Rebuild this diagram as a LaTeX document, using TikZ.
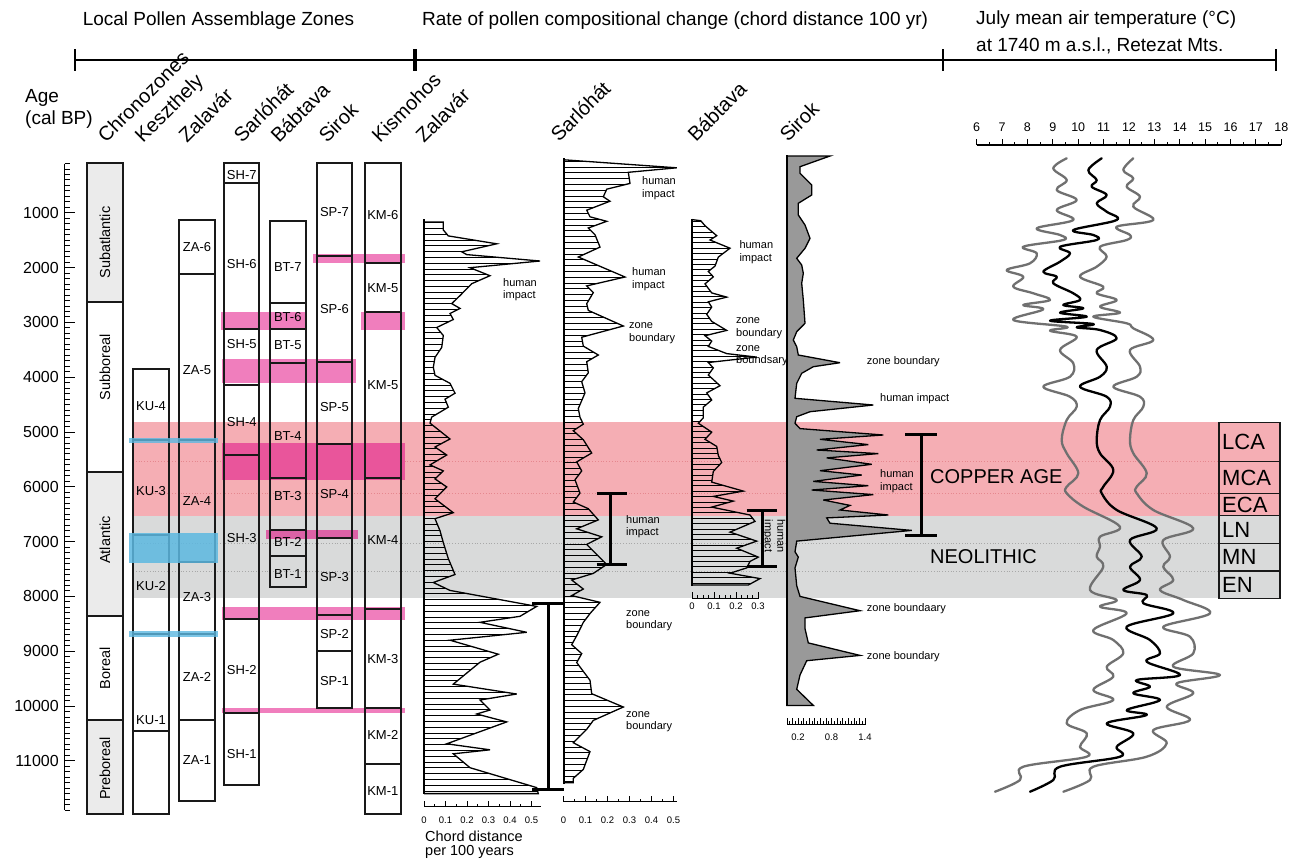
\documentclass[tikz,border=0pt]{standalone}
\usepackage{fontspec}
\setmainfont{Liberation Sans}
\definecolor{cuband}{HTML}{F5AEB4}
\definecolor{neoband}{HTML}{D9DADA}
\definecolor{chrongray}{HTML}{EBEBEB}
\definecolor{zpink}{HTML}{F07EBD}
\definecolor{zpinkdark}{HTML}{E9559B}
\definecolor{zpinkgray}{HTML}{DC62A6}
\definecolor{zblue}{HTML}{5CB8E1}
\definecolor{sirokgray}{HTML}{999999}
\definecolor{tgray}{HTML}{707070}
\definecolor{cudot}{HTML}{E5878E}
\definecolor{neodot}{HTML}{A8A8A8}
\newcommand\curveZA{(424,221.9) -- (443.3,221.9) -- (443.3,229.9) -- (448.3,235.9) -- (496.7,243.8) -- (461.7,251.8) -- (466.7,254.6) -- (540,261) -- (470,267.7) -- (490,275.7) -- (471.7,283.7) -- (460,295.6) -- (451.7,303.6) -- (460,308.4) -- (450,313.5) -- (453.3,319.5) -- (436.7,327.5) -- (443.3,335.5) -- (441.7,347.4) -- (435,357.4) -- (433.3,367.3) -- (435,375.3) -- (450,383.3) -- (455,393.2) -- (445,399.2) -- (448.3,407.2) -- (431.7,417.1) -- (430,423.1) -- (450,439) -- (435,447) -- (446.7,455) -- (430,464.9) -- (443.3,470.9) -- (435,478.9) -- (446.7,486.9) -- (435,498.8) -- (453.3,512.7) -- (435,518.7) -- (440,530.7) -- (443.3,542.6) -- (448.3,558.6) -- (455,574.5) -- (433.3,582.5) -- (450,590.4) -- (536.7,606.4) -- (520,616.3) -- (480,622.3) -- (526.7,632.3) -- (450,640.2) -- (498.3,654.2) -- (480,662.2) -- (453.3,684.1) -- (516.7,694) -- (480,700) -- (490,710) -- (476.7,714) -- (506.7,721.9) -- (446.7,743.8) -- (490,749.8) -- (453.3,753.8) -- (470,767.7) -- (536.7,787.6) -- (538.3,793.6) -- (424,793.6)}
\newcommand\curveSH{(564,159.8) -- (676.7,167.8) -- (628.3,172.3) -- (630,183.4) -- (606.7,189.2) -- (603.3,196.8) -- (610,201.2) -- (586.7,210.2) -- (590,216.8) -- (606.7,221.3) -- (588.3,228) -- (595,234.7) -- (600,247.1) -- (578.3,257) -- (625,277) -- (586.7,285.9) -- (593.3,292.6) -- (586.7,303.7) -- (588.3,310.4) -- (623.3,326) -- (581.7,337.2) -- (583.3,346.1) -- (598.3,355) -- (586.7,361.7) -- (588.3,372.8) -- (581.7,381.7) -- (585,392.9) -- (578.3,408.5) -- (580,417.4) -- (583.3,424.1) -- (573.3,430.7) -- (583.3,439.7) -- (591.7,453) -- (576.7,461.9) -- (581.7,470.9) -- (575,479.8) -- (580,493.1) -- (573.3,502) -- (588.3,508.7) -- (598.3,519.9) -- (576.7,528.8) -- (601.7,536.8) -- (586.7,544.4) -- (606.7,564.4) -- (593.3,573.4) -- (571.7,580) -- (583.3,589) -- (571.7,595.6) -- (600,602.3) -- (590,613.5) -- (583.3,622.4) -- (576.7,635.7) -- (571.7,644.7) -- (581.7,653.6) -- (576.7,662.5) -- (583.3,671.4) -- (590,680.3) -- (591.7,693.7) -- (623.3,707) -- (593.3,720.4) -- (586.7,729.3) -- (573.3,742.7) -- (590,751.6) -- (583.3,769.4) -- (573.3,778.3) -- (573.3,782.8) -- (564,782.8)}
\newcommand\curveBT{(692,219.6) -- (700.7,220.7) -- (705,225.7) -- (716.7,235.7) -- (710,240) -- (730,248.2) -- (718.3,257.1) -- (715,266.1) -- (708.3,271.4) -- (713.3,276.8) -- (705,283.9) -- (711.7,292.9) -- (726.7,297.1) -- (708.3,301.8) -- (711.7,307.1) -- (706.7,314.3) -- (711.7,321.4) -- (726.7,330.4) -- (705,335.7) -- (711.7,341.1) -- (708.3,346.4) -- (726.7,353.6) -- (756.7,357.1) -- (708.3,362.5) -- (713.3,367.9) -- (708.3,375) -- (720,385.7) -- (706.7,392.9) -- (711.7,400) -- (703.3,407.1) -- (703.3,417.9) -- (698.3,423.2) -- (711.7,432.1) -- (705,439.3) -- (716.7,446.4) -- (718.3,455.4) -- (721.7,462.5) -- (713.3,471.4) -- (711.7,482.1) -- (743.3,491.1) -- (713.3,496.4) -- (733.3,501.1) -- (711.7,507.1) -- (750,515) -- (755,521.4) -- (730,532.1) -- (756.7,541.1) -- (736.7,548.2) -- (758.3,557.1) -- (750,561.4) -- (746.7,567.9) -- (730,573.2) -- (760,578.6) -- (748.3,585) -- (692,585)}
\newcommand\curveSP{(787,156) -- (830,156) -- (800,166.7) -- (800,173.3) -- (811.7,185) -- (811.7,195) -- (798.3,203.3) -- (798.3,215) -- (805,225) -- (810,238.3) -- (805,248.3) -- (796.7,258.3) -- (801.7,265) -- (803.3,273.3) -- (801.7,283.3) -- (803.3,300) -- (805,323.3) -- (796.7,331.7) -- (793.3,340) -- (796.7,346.7) -- (798.3,355) -- (840,362.7) -- (813.3,366.7) -- (801.7,373.3) -- (796.7,383.3) -- (795,398.3) -- (873.3,405) -- (810,411.7) -- (796.7,416.7) -- (795,423.3) -- (800,428.6) -- (883.3,435) -- (820,439.3) -- (868.3,444.6) -- (816.7,450) -- (878.3,453.6) -- (826.7,457.9) -- (871.7,464.3) -- (820,470.7) -- (861.7,475) -- (813.3,481.4) -- (868.3,485.7) -- (811.7,490) -- (873.3,494.6) -- (823.3,500) -- (850,505.4) -- (840,510) -- (888.3,515) -- (826.7,517.9) -- (830,523.2) -- (911.7,530.4) -- (796.7,541.1) -- (795,551.8) -- (798.3,557.1) -- (795,567.9) -- (796.7,585.7) -- (800,596.4) -- (860,610.7) -- (805,617.9) -- (805,628.6) -- (808.3,642.9) -- (860,655.4) -- (806.7,660.7) -- (800,675) -- (796.7,689.3) -- (813.3,705.4) -- (787,705.4)}
\begin{document}
\begin{tikzpicture}[x=1pt,y=-1pt,
  zbox/.style={draw=black!90, line width=1.7pt},
  zlab/.style={font=\fontsize{13}{14}\selectfont, inner sep=0pt},
  czlab/.style={font=\fontsize{14.5}{16}\selectfont, inner sep=0pt, rotate=90},
  hdr/.style={font=\fontsize{19}{22}\selectfont, inner sep=0pt, anchor=west},
  rhdr/.style={font=\fontsize{20}{22}\selectfont, inner sep=0pt, rotate=45, anchor=base west},
  agelab/.style={font=\fontsize{16}{18}\selectfont, inner sep=0pt, anchor=east},
  ann/.style={font=\fontsize{11}{12.5}\selectfont, inner sep=0pt, anchor=west, align=left},
  sclab/.style={font=\fontsize{9.5}{11}\selectfont, inner sep=0pt},
  tlab/.style={font=\fontsize{12.5}{14}\selectfont, inner sep=0pt},
  bandlab/.style={font=\fontsize{20}{22}\selectfont, inner sep=0pt, anchor=west},
  perlab/.style={font=\fontsize{22}{24}\selectfont, inner sep=0pt, anchor=west},
  crv/.style={line width=1.3pt, line join=miter, miter limit=6},
  hatch/.style={line width=0.6pt},
  axl/.style={line width=1.8pt},
  ibar/.style={line width=3pt},
  tcurve/.style={line width=2.3pt, line join=round, line cap=round},
  scl/.style={line width=0.9pt},
]
\useasboundingbox (0,0) rectangle (1303,860);
\fill[white] (0,0) rectangle (1303,860);

% ---------- period bands ----------
\fill[cuband] (133,422.3) rectangle (1280,515.7);
\fill[neoband] (133,515.7) rectangle (1280,598.3);
\draw[cudot, dotted, line width=0.8pt] (133,461.7) -- (1219,461.7);
\draw[cudot, dotted, line width=0.8pt] (133,493.3) -- (1219,493.3);
\draw[neodot, dotted, line width=0.8pt] (133,543.3) -- (1219,543.3);
\draw[neodot, dotted, line width=0.8pt] (133,571) -- (1219,571);

% ---------- headers ----------
\node[hdr, anchor=center] (hLPAZ) at (218.5,21) {Local Pollen Assemblage Zones};
\node[hdr] (hRate) at (422,21) {Rate of pollen compositional change (chord distance 100 yr)};
\node[hdr] (hJuly) at (976,20) {July mean air temperature (°C)};
\node[hdr] (hAt) at (976,46) {at 1740 m a.s.l., Retezat Mts.};
\coordinate (r0) at (75,60);
\coordinate (r1) at (415,60);
\coordinate (r2) at (943,60);
\coordinate (r3) at (1276,60);
\draw[line width=1.2pt] (r0) -- (r3);
\draw[line width=1.6pt] (75,49) -- (75,71);
\draw[line width=3.2pt] (415,49) -- (415,71);
\draw[line width=1.6pt] (943,49) -- (943,71);
\draw[line width=1.6pt] (1276,49) -- (1276,71);

\node[hdr] (ageA) at (25,98) {Age};
\node[hdr] (ageB) at (25,120) {(cal BP)};

\node[rhdr] (rhChron) at (106,144) {Chronozones};
\node[rhdr] (rhKesz) at (143,144) {Keszthely};
\node[rhdr] (rhZal) at (187,144) {Zalavár};
\node[rhdr] (rhSarl) at (242,144) {Sarlóhát};
\node[rhdr] (rhBab) at (279,144) {Bábtava};
\node[rhdr] (rhSir) at (327,144) {Sirok};
\node[rhdr] (rhKism) at (380,144) {Kismohos};
\node[rhdr] (rhZal2) at (424,144) {Zalavár};
\node[rhdr] (rhSarl2) at (559,143) {Sarlóhát};
\node[rhdr] (rhBab2) at (696,143) {Bábtava};
\node[rhdr] (rhSir2) at (788,143) {Sirok};

% ---------- age axis ----------
\draw[line width=1.3pt] (64.5,163.5) -- (64.5,810.2);
\foreach \k in {1,...,119} \draw[line width=0.9pt] (64.5,{158+5.48*\k}) -- ++(5.5,0);
\foreach \k in {10,20,...,110} \draw[line width=0.9pt] (64.5,{158+5.48*\k}) -- ++(10,0);
\foreach \a in {1000,2000,...,11000} \node[agelab] (age\a) at (59,{158+0.0548*\a}) {\a};

% ---------- chronozones ----------
\fill[chrongray] (87,163.3) rectangle (123,301.7);
\fill[chrongray] (87,472) rectangle (123,615.7);
\fill[chrongray] (87,720) rectangle (123,814.3);

% ---------- pink zone bands ----------
\fill[zpink] (220.7,311.7) rectangle (306.7,330);
\fill[zpink] (361,311.7) rectangle (405,330);
\fill[zpink] (221.7,359.3) rectangle (356,383.3);
\fill[zpinkdark] (221.7,443) rectangle (405,480);
\fill[zpink] (312.7,254.3) rectangle (405,263.3);
\fill[zpinkgray] (266,530) rectangle (357.7,539);
\fill[zpink] (221.7,607.3) rectangle (405,620);
\fill[zpink] (221.7,708) rectangle (405,713);

% ---------- zone columns ----------
\draw[zbox] (87,163.3) rectangle (123,814.3);
\foreach \yy in {301.7,472,615.7,720} \draw[zbox] (87,\yy) -- (123,\yy);
\draw[zbox] (133.3,369.3) rectangle (169,814.3);
\foreach \yy in {440,535,634,730.7} \draw[zbox] (133.3,\yy) -- (169,\yy);
\draw[zbox] (179.3,220) rectangle (215,800.7);
\foreach \yy in {274,440,561.7,634,720} \draw[zbox] (179.3,\yy) -- (215,\yy);
\draw[zbox] (224.3,163.3) rectangle (259.3,785);
\foreach \yy in {183.3,329.3,385,455,619.3,712.7} \draw[zbox] (224.3,\yy) -- (259.3,\yy);
\draw[zbox] (270,221) rectangle (305.7,587.3);
\foreach \yy in {303.3,329.3,362.7,478.3,530,556} \draw[zbox] (270,\yy) -- (305.7,\yy);
\draw[zbox] (316.7,163.3) rectangle (352.3,708.3);
\foreach \yy in {255.7,361.7,444.3,537.7,615,650.7} \draw[zbox] (316.7,\yy) -- (352.3,\yy);
\draw[zbox] (365,163.3) rectangle (400.7,814.3);
\foreach \yy in {263.3,312.3,478.3,609.3,708.3,764} \draw[zbox] (365,\yy) -- (400.7,\yy);

% ---------- blue bands ----------
\fill[zblue, opacity=0.8] (129,437.5) rectangle (217.7,443);
\fill[zblue, opacity=0.85] (129,533.3) rectangle (217.7,563.3);
\fill[zblue, opacity=0.8] (129,631) rectangle (217.7,637);

% ---------- zone labels ----------
\node[czlab] (cz1) at (105,242.5) {Subatlantic};
\node[czlab] (cz2) at (105,367.5) {Subboreal};
\node[czlab] (cz3) at (105,540) {Atlantic};
\node[czlab] (cz4) at (105,668.3) {Boreal};
\node[czlab] (cz5) at (105,768.3) {Preboreal};
\foreach \yy/\t [count=\i] in {405.7/KU-4,490.7/KU-3,586/KU-2,720/KU-1} \node[zlab] (ku\i) at (151,\yy) {\t};
\foreach \yy/\t [count=\i] in {247/ZA-6,370/ZA-5,500.7/ZA-4,597/ZA-3,676.7/ZA-2,760/ZA-1} \node[zlab] (za\i) at (197,\yy) {\t};
\foreach \yy/\t [count=\i] in {175/SH-7,264/SH-6,344/SH-5,421.7/SH-4,538/SH-3,670/SH-2,754/SH-1} \node[zlab] (sh\i) at (241.8,\yy) {\t};
\foreach \yy/\t [count=\i] in {267.3/BT-7,316.7/BT-6,345/BT-5,436/BT-4,495.7/BT-3,541.7/BT-2,574/BT-1} \node[zlab] (bt\i) at (287.8,\yy) {\t};
\foreach \yy/\t [count=\i] in {212.3/SP-7,309.3/SP-6,406.7/SP-5,494/SP-4,576.7/SP-3,634/SP-2,681/SP-1} \node[zlab] (sp\i) at (334.5,\yy) {\t};
\foreach \yy/\t [count=\i] in {215/KM-6,287.7/KM-5,385/KM-5,540/KM-4,659.3/KM-3,735/KM-2,791/KM-1} \node[zlab] (km\i) at (382.8,\yy) {\t};

% ---------- Zalavar chord ----------
\begin{scope}
\clip \curveZA -- cycle;
\foreach \yy in {222.5,228.3,...,794} \draw[hatch] (420,\yy) -- (560,\yy);
\end{scope}
\draw[crv] \curveZA;
\draw[axl] (424,219) -- (424,794);
\node[ann] (zaHI) at (503,289.6) {human\\impact};
\draw[ibar] (548.3,603.6) -- (548.3,789.6);
\draw[ibar] (532,603.6) -- (564,603.6);
\draw[ibar] (532,789.6) -- (564,789.6);

% ---------- Sarlohat chord ----------
\begin{scope}
\clip \curveSH -- cycle;
\foreach \yy in {161,166.8,...,783} \draw[hatch] (560,\yy) -- (690,\yy);
\end{scope}
\draw[crv] \curveSH;
\draw[axl] (564,158) -- (564,783.5);
\node[ann] (shHI1) at (642,188) {human\\impact};
\node[ann] (shHI2) at (632,279) {human\\impact};
\node[ann] (shZB1) at (629,333.4) {zone\\boundary};
\node[ann] (shHI3) at (626,526.6) {human\\impact};
\node[ann] (shZB2) at (626,620.8) {zone\\boundary};
\node[ann] (shZB3) at (626,721.5) {zone\\boundary};
\draw[ibar] (610.7,493) -- (610.7,564.4);
\draw[ibar] (596.7,493) -- (627.3,493);
\draw[ibar] (596.7,564.4) -- (627.3,564.4);

% ---------- Babtava chord ----------
\begin{scope}
\clip \curveBT -- cycle;
\foreach \yy in {221,226.4,...,585} \draw[hatch] (688,\yy) -- (770,\yy);
\end{scope}
\draw[crv] \curveBT;
\draw[axl] (692,219) -- (692,586);
\node[ann] (btHI1) at (739.3,252) {human\\impact};
\node[ann] (btZB1) at (736,328) {zone\\boundary};
\node[ann] (btZB2) at (736,355.9) {zone\\boundsary};
\draw[ibar] (762.7,510.7) -- (762.7,566);
\draw[ibar] (746.7,510.7) -- (776.7,510.7);
\draw[ibar] (746.7,566) -- (776.7,566);
\node[ann, anchor=center, align=center, rotate=-90] (btHI2) at (774,536) {human\\impact};

% ---------- Sirok chord ----------
\filldraw[fill=sirokgray, draw=black, crv] \curveSP -- cycle;
\draw[line width=2.4pt] (787,155) -- (787,706);
\node[ann] (spZB1) at (866.7,361.7) {zone boundary};
\node[ann] (spHI1) at (880,398.3) {human impact};
\node[ann] (spHI2) at (880,481) {human\\impact};
\node[ann] (spZB2) at (866.7,608.2) {zone boundaary};
\node[ann] (spZB3) at (866.7,656.4) {zone boundary};
\draw[ibar] (921,434.5) -- (921,535.5);
\draw[ibar] (905,434.5) -- (937,434.5);
\draw[ibar] (905,535.5) -- (937,535.5);

\node[bandlab] (cuLab) at (930,477) {COPPER AGE};
\node[bandlab] (neoLab) at (930,557) {NEOLITHIC};

% ---------- chord scales ----------
\draw[scl] (424,806.7) -- (541,806.7);
\foreach \k in {0,...,5} \draw[scl] ({424+\k*21.5},806.7) -- ++(0,-6);
\foreach \k in {0,...,4} \draw[scl] ({434.75+\k*21.5},806.7) -- ++(0,-3);
\foreach \v/\l [count=\i] in {0/0,1/0.1,2/0.2,3/0.3,4/0.4,5/0.5} \node[sclab] (zsl\i) at ({424+\v*21.5},820) {\l};
\node[font=\fontsize{14.5}{16}\selectfont, inner sep=0pt, anchor=west] (cd1) at (425,836) {Chord distance};
\node[font=\fontsize{14.5}{16}\selectfont, inner sep=0pt, anchor=west] (cd2) at (425,852) {per 100 years};

\draw[scl] (563.5,801.7) -- (677,801.7);
\foreach \k in {0,...,5} \draw[scl] ({563.5+\k*22},801.7) -- ++(0,-6);
\foreach \k in {0,...,4} \draw[scl] ({574.5+\k*22},801.7) -- ++(0,-3);
\foreach \v/\l [count=\i] in {0/0,1/0.1,2/0.2,3/0.3,4/0.4,5/0.5} \node[sclab] (ssl\i) at ({563.5+\v*22},820) {\l};

\draw[scl] (692,598) -- (759,598);
\foreach \k in {0,...,3} \draw[scl] ({692+\k*22},598) -- ++(0,-6);
\foreach \k in {0,...,11} \draw[scl] ({692+\k*5.5},598) -- ++(0,-3);
\foreach \v/\l [count=\i] in {0/0,1/0.1,2/0.2,3/0.3} \node[sclab] (bsl\i) at ({692+\v*22},606.5) {\l};

\draw[scl] (787,724) -- (866,724);
\foreach \k in {0,...,14} \draw[scl] ({787+\k*5.58},724) -- ++(0,-6);
\foreach \k in {0,...,13} \draw[scl] ({789.8+\k*5.58},724) -- ++(0,-3);
\node[sclab] (psl1) at (798,737) {0.2};
\node[sclab] (psl2) at (831.5,737) {0.8};
\node[sclab] (psl3) at (865,737) {1.4};

% ---------- temperature ----------
\draw[scl, line width=1.2pt] (976.7,145) -- (1281.3,145);
\foreach \t in {6,...,18} {
  \draw[scl] ({976.7+(\t-6)*25.38},145) -- ++(0,-6);
  \node[tlab] (tl\t) at ({976.7+(\t-6)*25.38},127) {\t};
}
\foreach \k in {0,...,11} \draw[scl] ({989.4+\k*25.38},145) -- ++(0,-3);

\draw[tcurve, tgray] plot[smooth, tension=0.6] coordinates {(1066.7,158.3) (1053.3,168.3) (1066.7,180) (1056.7,190) (1076.7,200) (1056.7,210) (1073.3,220) (1036.7,228.3) (1060,235) (1063.3,240) (1023.3,246.7) (1036.7,253.3) (1030,263.3) (1006.7,270) (1023.3,276.7) (1013.3,286.7) (1033.3,293.3) (1050,300) (1023.3,305) (1043.3,309.3) (1013.3,320) (1066.7,326.7) (1050,330.7) (1076.7,336.7) (1060,350) (1073.3,363.3) (1070,376.7) (1043.3,386.7) (1070,396.7) (1076.7,406.7) (1066.7,420) (1061.7,440) (1066.7,453.3) (1078.3,473.3) (1066.7,486.7) (1066.7,493.3) (1083.3,506.7) (1120,526.7) (1100,536.7) (1100,546.7) (1096.7,556.7) (1103.3,566.7) (1090,590) (1116.7,600) (1100,606.7) (1126.7,613.3) (1093.3,630) (1113.3,640) (1123.3,653.3) (1106.7,666.7) (1113.3,676.7) (1093.3,690) (1113.3,700) (1080,710) (1066.7,723.3) (1086.7,733.3) (1080,746.7) (1086.7,756.7) (1023.3,766.7) (1020,780) (995,791.7)};
\draw[tcurve, tgray] plot[smooth, tension=0.6] coordinates {(1133.3,158.3) (1123.3,170) (1133.3,178.3) (1126.7,186.7) (1140,196.7) (1133.3,206.7) (1153.3,220) (1116.7,226.7) (1130,235) (1126.7,240) (1100,246.7) (1106.7,256.7) (1096.7,266.7) (1080,276.7) (1103.3,286.7) (1096.7,293.3) (1116.7,300) (1100,306.7) (1120,312.7) (1093.3,316.7) (1126.7,323.3) (1133.3,328.3) (1153.3,340) (1130,350) (1140,366.7) (1136.7,376.7) (1113.3,386.7) (1140,396.7) (1143.3,406.7) (1133.3,420) (1130,440) (1133.3,453.3) (1146.7,473.3) (1136.7,486.7) (1136.7,493.3) (1153.3,510) (1193.3,528.3) (1163.3,540) (1170,556.7) (1163.3,566.7) (1173.3,580) (1160,590) (1183.3,600) (1210,613.3) (1163.3,626.7) (1190,636.7) (1193.3,653.3) (1173.3,666.7) (1220,675) (1176.7,683.3) (1193.3,693.3) (1166.7,706.7) (1190,720) (1153.3,730) (1166.7,743.3) (1146.7,756.7) (1093.3,766.7) (1090,780) (1063.3,791.7)};
\draw[tcurve, black] plot[smooth, tension=0.6] coordinates {(1101.7,158.3) (1088.3,170) (1096.7,180) (1091.7,186.7) (1106.7,195) (1096.7,203.3) (1106.7,211.7) (1116.7,220) (1073.3,230) (1093.3,235) (1096.7,240) (1060,246.7) (1070,253.3) (1060,261.7) (1043.3,271.7) (1056.7,276.7) (1053.3,283.3) (1073.3,293.3) (1080,300) (1063.3,305) (1083.3,308.3) (1060,312.7) (1086.7,316.7) (1050,320.7) (1093.3,324) (1076.7,327.3) (1100,330) (1116.7,338.3) (1096.7,350) (1106.7,366.7) (1100,376.7) (1080,386.7) (1106.7,396.7) (1110,406.7) (1100,420) (1096.7,440) (1100,453.3) (1113.3,470) (1103.3,486.7) (1101.7,493.3) (1116.7,510) (1156.7,528.3) (1130,540) (1141.7,556.7) (1130,566.7) (1140,580) (1123.3,590) (1146.7,595) (1143.3,603.3) (1173.3,613.3) (1126.7,626.7) (1150,640) (1160,653.3) (1146.7,661.7) (1180,675) (1136.7,680) (1150,686.7) (1133.3,693.3) (1160,700) (1126.7,710) (1146.7,715) (1106.7,723.3) (1133.3,733.3) (1116.7,746.7) (1120,756.7) (1060,766.7) (1053.3,780) (1030,791.7)};

% ---------- period boxes ----------
\fill[cuband] (1219,422.3) rectangle (1280,515.7);
\fill[neoband] (1219,515.7) rectangle (1280,598.3);
\draw[zbox, line width=1.6pt] (1219,422.3) rectangle (1280,598.3);
\foreach \yy in {461.7,493.3,515.7,543.3,571} \draw[zbox, line width=1.4pt] (1219,\yy) -- (1280,\yy);
\node[perlab] (pLCA) at (1222,442) {LCA};
\node[perlab] (pMCA) at (1222,477.5) {MCA};
\node[perlab] (pECA) at (1222,504.5) {ECA};
\node[perlab] (pLN) at (1222,529.5) {LN};
\node[perlab] (pMN) at (1222,557.2) {MN};
\node[perlab] (pEN) at (1222,584.7) {EN};
\end{tikzpicture}
\end{document}
